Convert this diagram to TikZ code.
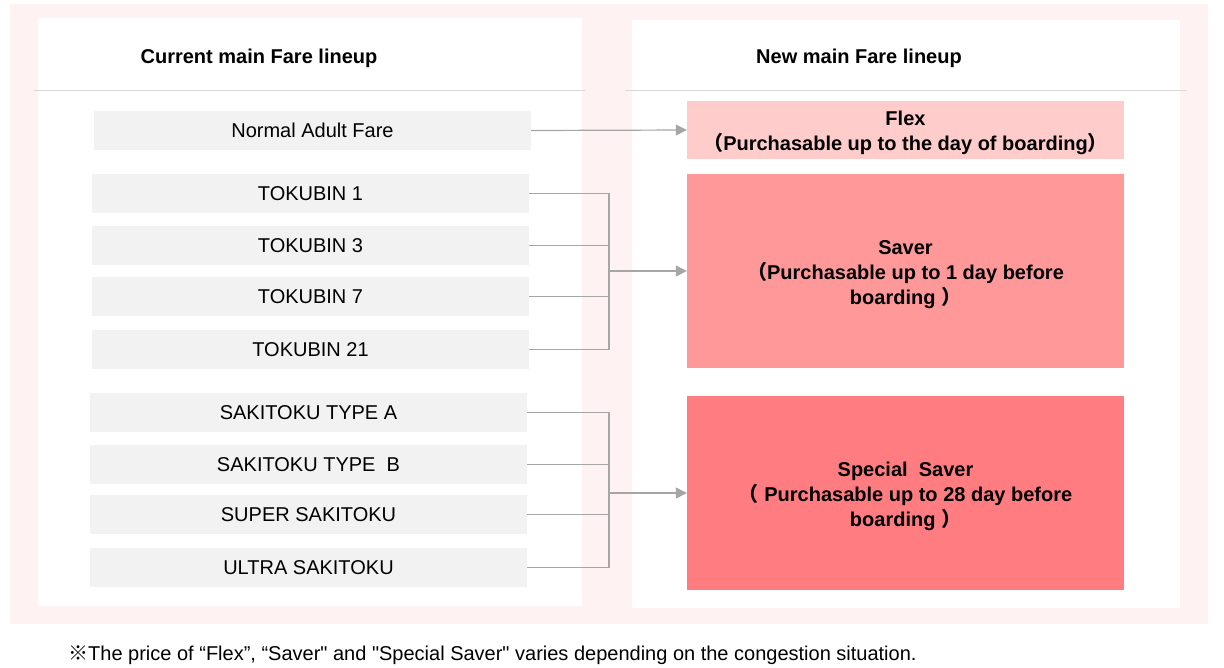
\documentclass[tikz,border=0pt]{standalone}
\usepackage{fontspec}
\setmainfont{Liberation Sans}
\newfontfamily\cjk{Noto Sans CJK JP}
\usetikzlibrary{arrows.meta}
\definecolor{outerpink}{HTML}{FFF2F3}
\definecolor{boxgray}{HTML}{F2F2F2}
\definecolor{flexcol}{HTML}{FFCCCC}
\definecolor{savercol}{HTML}{FF9999}
\definecolor{specialcol}{HTML}{FF7C80}
\definecolor{linegray}{HTML}{A6A6A6}
\definecolor{sepgray}{HTML}{D9D9D9}
\newcommand{\fwl}{{\cjk （}}
\newcommand{\fwr}{{\cjk ）}}
\newcommand{\topstrut}{\rule{0pt}{21pt}}
\tikzset{
  oldfare/.style={rectangle, fill=boxgray, minimum width=437pt, minimum height=39pt, inner sep=0pt,
    font=\fontsize{20}{24}\selectfont},
  newfare/.style={rectangle, minimum width=437pt, inner sep=0pt, align=center,
    font=\bfseries\fontsize{20}{25}\selectfont},
  header/.style={font=\bfseries\fontsize{20}{24}\selectfont, inner sep=0pt},
  conn/.style={draw=linegray, line width=1.2pt},
  arr/.style={conn, -{Triangle[length=11pt,width=11pt]}},
}
\begin{document}
\begin{tikzpicture}[x=1pt,y=-1pt]
\useasboundingbox[fill=white] (0,0) rectangle (1224,667);
% background panels
\fill[outerpink] (10,4) rectangle (1208,624);
\fill[white] (38,18) rectangle (582,606);
\fill[white] (632,20) rectangle (1180,608);
\draw[sepgray, line width=1pt] (34,90) -- (585,90);
\draw[sepgray, line width=1pt] (625,90) -- (1187,90);
% headers
\node[header] (hcur) at (259,58) {Current main Fare lineup};
\node[header] (hnew) at (859,58) {New main Fare lineup};
% current fares
\node[oldfare] (n0) at (312.5,130.5) {Normal Adult Fare};
\node[oldfare] (t1) at (310.5,193.5) {TOKUBIN 1};
\node[oldfare] (t3) at (310.5,245.5) {TOKUBIN 3};
\node[oldfare] (t7) at (310.5,296.5) {TOKUBIN 7};
\node[oldfare] (t21) at (310.5,349.5) {TOKUBIN 21};
\node[oldfare] (sa) at (308.5,412.5) {SAKITOKU TYPE A};
\node[oldfare] (sb) at (308.5,464.5) {SAKITOKU TYPE\ \ B};
\node[oldfare] (ss) at (308.5,514.5) {SUPER SAKITOKU};
\node[oldfare] (us) at (308.5,567.5) {ULTRA SAKITOKU};
% new fares
\node[newfare, fill=flexcol, minimum height=58pt] (flex) at (905.5,130)
  {\topstrut Flex\\\fwl Purchasable up to the day of boarding\fwr};
\node[newfare, fill=savercol, minimum height=194pt] (saver) at (905.5,271)
  {\topstrut Saver\\\fwl Purchasable up to 1 day before\\boarding \fwr};
\node[newfare, fill=specialcol, minimum height=194pt] (special) at (905.5,493)
  {\topstrut Special\ \ Saver\\\fwl\ Purchasable up to 28 day before\\boarding \fwr};
% connectors
\coordinate (j1) at (609,271);
\coordinate (j2) at (609,493);
\draw[arr] (n0.east) -- (flex.west);
\draw[conn] (t1.east) -| (j1);
\draw[conn] (t3.east) -| (j1);
\draw[conn] (t7.east) -| (j1);
\draw[conn] (t21.east) -| (j1);
\draw[arr] (j1) -- (saver.west);
\draw[conn] (sa.east) -| (j2);
\draw[conn] (sb.east) -| (j2);
\draw[conn] (ss.east) -| (j2);
\draw[conn] (us.east) -| (j2);
\draw[arr] (j2) -- (special.west);
% footnote
\node[anchor=west, inner sep=0pt, font=\fontsize{20}{24}\selectfont] (note) at (68,655)
  {{\cjk ※}The price of “Flex”, “Saver\textquotedbl{} and \textquotedbl Special Saver\textquotedbl{} varies depending on the congestion situation.};
\end{tikzpicture}
\end{document}
